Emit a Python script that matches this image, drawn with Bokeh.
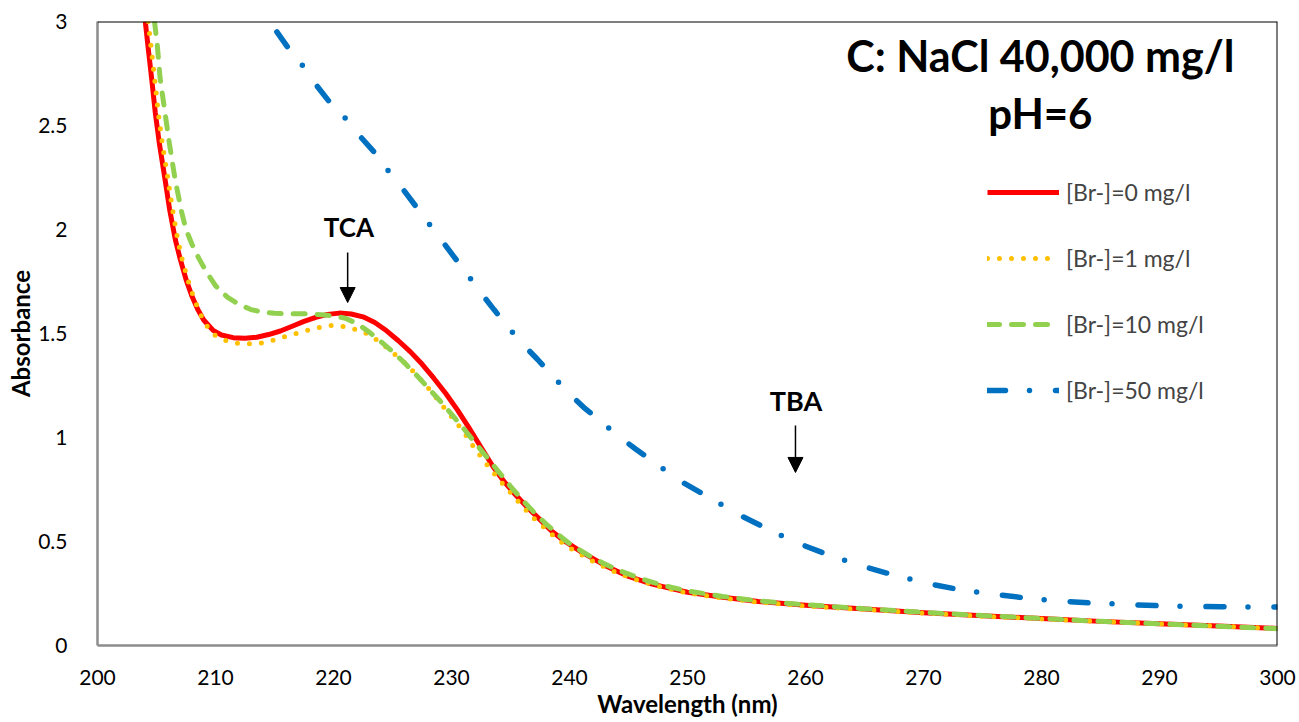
from bokeh.plotting import figure
from bokeh.models import (Range1d, FixedTicker, NumeralTickFormatter, Span, Label,
                          Arrow, NormalHead, Legend, LegendItem)
from bokeh.embed import file_html
from bokeh.resources import INLINE

# ---------------- data ----------------
x_ticks = [200, 210, 220, 230, 240, 250, 260, 270, 280, 290, 300]
y_ticks = [0, 0.5, 1, 1.5, 2, 2.5, 3]

series_labels = ["[Br-]=0 mg/l", "[Br-]=1 mg/l", "[Br-]=10 mg/l", "[Br-]=50 mg/l"]

wl_0 = [204.05, 204.3, 204.6, 204.9, 205.25, 205.7, 206.1, 206.6, 207.0, 207.5, 208.0, 208.5,
        209.0, 209.8, 210.5, 211.5, 212.5, 213.5, 214.5, 215.5, 216.5, 217.5, 218.5, 219.5,
        220.5, 221.5, 222.5, 223.5, 224.5, 225.5, 226.5, 227.5, 228.5, 229.5, 230.5, 231.5,
        232.5, 233.5, 234.5, 235.5, 236.5, 237.5, 238.5, 239.5, 241, 243, 245, 247, 250, 253,
        256, 260, 265, 270, 275, 280, 285, 290, 295, 300]
abs_0 = [3.00, 2.87, 2.72, 2.56, 2.41, 2.25, 2.10, 1.95, 1.86, 1.76, 1.68, 1.615,
         1.565, 1.515, 1.493, 1.480, 1.477, 1.482, 1.495, 1.512, 1.535, 1.558, 1.578, 1.592,
         1.598, 1.594, 1.580, 1.553, 1.513, 1.465, 1.413, 1.353, 1.285, 1.213, 1.133, 1.045,
         0.953, 0.862, 0.785, 0.72, 0.66, 0.605, 0.55, 0.505, 0.45, 0.385, 0.332, 0.295, 0.256, 0.232,
         0.212, 0.193, 0.175, 0.158, 0.143, 0.13, 0.116, 0.105, 0.094, 0.082]

wl_1 = [204.3, 204.55, 204.85, 205.15, 205.5, 205.95, 206.35, 206.8, 207.2, 207.7, 208.2, 208.7,
        209.3, 210, 211, 212, 213, 214, 215, 216, 217, 218, 219, 220, 221, 222, 223, 224, 225,
        226, 227, 228, 229, 230, 231, 232, 233, 234, 235, 236, 237, 238, 239, 240, 242, 244,
        246, 248, 250, 253, 256, 260, 265, 270, 275, 280, 285, 290, 295, 300]
abs_1 = [3.0, 2.87, 2.72, 2.56, 2.41, 2.25, 2.10, 1.95, 1.85, 1.75, 1.665, 1.595,
         1.535, 1.49, 1.463, 1.452, 1.450, 1.455, 1.47, 1.487, 1.503, 1.518, 1.532, 1.54, 1.532,
         1.518, 1.495, 1.455, 1.41, 1.36, 1.305, 1.24, 1.17, 1.10, 1.03, 0.945, 0.87, 0.80, 0.735,
         0.67, 0.61, 0.56, 0.51, 0.47, 0.405, 0.35, 0.31, 0.278, 0.252, 0.228, 0.208, 0.19, 0.173,
         0.156, 0.141, 0.128, 0.115, 0.104, 0.093, 0.081]

wl_10 = [204.83, 205.06, 205.3, 205.7, 206.1, 206.55, 207.1, 207.5, 208.0, 208.6, 209.3, 210.0,
         211, 212, 213, 214, 215, 216, 217, 218, 219, 220, 221, 222, 223, 224, 225, 226, 227,
         228, 229, 230, 231, 232, 233, 234, 235, 236, 237, 238, 239, 240, 242, 244, 246, 248,
         250, 253, 256, 260, 265, 270, 275, 280, 285, 290, 295, 300]
abs_10 = [3.0, 2.89, 2.73, 2.57, 2.41, 2.25, 2.09, 2.0, 1.93, 1.86, 1.79, 1.73,
          1.675, 1.64, 1.615, 1.603, 1.597, 1.595, 1.595, 1.594, 1.59, 1.585, 1.573, 1.548, 1.508,
          1.462, 1.413, 1.36, 1.302, 1.24, 1.178, 1.112, 1.045, 0.975, 0.905, 0.835, 0.765, 0.70,
          0.64, 0.585, 0.535, 0.49, 0.42, 0.365, 0.322, 0.288, 0.262, 0.236, 0.214, 0.196, 0.177,
          0.159, 0.144, 0.13, 0.116, 0.104, 0.093, 0.081]

wl_50 = [215.2, 216.2, 217.5, 218.6, 219.7, 221.1, 222.3, 223.4, 224.6, 225.8, 226.8, 228.0,
         229.2, 230.2, 231.4, 232.5, 233.6, 234.8, 236.1, 237.3, 238.6, 239.9, 241.2, 242.7,
         244.3, 245.6, 247.2, 249.4, 251.9, 254.3, 256.8, 259.2, 262.0, 264.6, 267.4, 270.2,
         272.9, 275.5, 278.4, 281.2, 284.0, 286.9, 289.6, 292.5, 295.2, 298.6, 300]
abs_50 = [2.95, 2.87, 2.78, 2.69, 2.61, 2.53, 2.445, 2.375, 2.285, 2.20, 2.125, 2.035,
          1.945, 1.87, 1.78, 1.695, 1.615, 1.53, 1.445, 1.375, 1.295, 1.215, 1.145, 1.075,
          1.00, 0.945, 0.88, 0.79, 0.71, 0.63, 0.56, 0.495, 0.435, 0.385, 0.34, 0.30,
          0.27, 0.25, 0.23, 0.215, 0.205, 0.198, 0.192, 0.188, 0.186, 0.185, 0.185]

# ---------------- figure ----------------
p = figure(width=1299, height=722, output_backend="svg", toolbar_location=None,
           x_range=Range1d(200, 300), y_range=Range1d(0, 3),
           min_border_left=97, min_border_right=22, min_border_top=21, min_border_bottom=77,
           background_fill_color="white", border_fill_color="white")
p.outline_line_color = None
p.xgrid.visible = False
p.ygrid.visible = False

p.xaxis.ticker = FixedTicker(ticks=x_ticks)
p.yaxis.ticker = FixedTicker(ticks=y_ticks)
p.yaxis.formatter = NumeralTickFormatter(format="0.[0]")
p.xaxis.axis_label = "Wavelength (nm)"
p.yaxis.axis_label = "Absorbance"
for ax in (p.xaxis[0], p.yaxis[0]):
    ax.axis_line_color = "#8c8c8c"
    ax.axis_line_width = 2.5
    ax.major_tick_line_color = None
    ax.minor_tick_line_color = None
    ax.major_label_text_font = "Lato"
    ax.major_label_text_font_size = "21px"
    ax.major_label_text_color = "black"
    ax.axis_label_text_font = "Lato"
    ax.axis_label_text_font_style = "bold"
    ax.axis_label_text_font_size = "24px"
    ax.axis_label_text_color = "black"
p.xaxis.major_label_standoff = 18
p.yaxis.major_label_standoff = 24
p.xaxis.axis_label_standoff = 1
p.yaxis.axis_label_standoff = 0

p.add_layout(Span(location=3, dimension="width", line_color="black", line_width=2))
p.add_layout(Span(location=300, dimension="height", line_color="black", line_width=2))

r0 = p.line(wl_0, abs_0, line_color="#FF0000", line_width=5, line_join="round")
r1 = p.line(wl_1, abs_1, line_color="#FFC000", line_width=5, line_dash="0 12", line_cap="round")
r10 = p.line(wl_10, abs_10, line_color="#92D050", line_width=5, line_dash="12 12", line_cap="round")
r50 = p.line(wl_50, abs_50, line_color="#0070C0", line_width=5.5, line_dash="18 24 0 26", line_cap="round")

legend = Legend(items=[LegendItem(label=series_labels[0], renderers=[r0]),
                       LegendItem(label=series_labels[1], renderers=[r1]),
                       LegendItem(label=series_labels[2], renderers=[r10]),
                       LegendItem(label=series_labels[3], renderers=[r50])],
                location=(890, 240), glyph_width=72, glyph_height=30, label_height=30,
                spacing=36, label_standoff=7, padding=10, margin=0,
                label_text_font="Lato", label_text_font_size="23px",
                border_line_color=None, background_fill_alpha=0)
p.add_layout(legend)

title_font = dict(text_font="Lato", text_font_style="bold", text_color="black",
                  text_align="center", text_baseline="middle")
p.add_layout(Label(x=279.9, y=2.835, text="C: NaCl 40,000 mg/l", text_font_size="43px", **title_font))
p.add_layout(Label(x=279.9, y=2.558, text="pH=6", text_font_size="42px", **title_font))
p.add_layout(Label(x=221.3, y=2.01, text="TCA", text_font_size="26px", **title_font))
p.add_layout(Label(x=259.2, y=1.178, text="TBA", text_font_size="27px", **title_font))

p.add_layout(Arrow(end=NormalHead(size=15, fill_color="black", line_color="black"),
                   x_start=221.2, y_start=1.889, x_end=221.2, y_end=1.649,
                   line_color="black", line_width=1.5))
p.add_layout(Arrow(end=NormalHead(size=15, fill_color="black", line_color="black"),
                   x_start=259.15, y_start=1.058, x_end=259.15, y_end=0.832,
                   line_color="black", line_width=1.5))

open("out.html", "w").write(file_html(p, INLINE))
